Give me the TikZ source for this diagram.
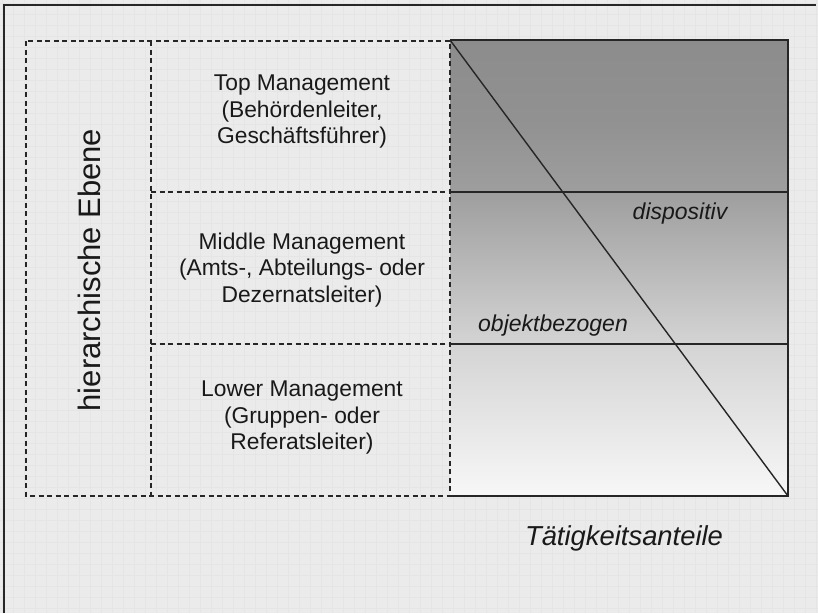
\documentclass[tikz,border=0pt]{standalone}
\usepackage{fontspec}
\setmainfont{Liberation Sans}
\pgfdeclareverticalshading{anteilshade}{100bp}{color(0bp)=(black!3); color(25bp)=(black!3); color(41.7bp)=(black!17); color(58.3bp)=(black!38); color(66bp)=(black!43); color(75bp)=(black!45); color(100bp)=(black!45)}
\begin{document}
\begin{tikzpicture}
[x=1pt,y=-1pt,
  leveldecorate/.style={align=center,text=black!90,font=\fontsize{22.8}{26.5}\selectfont},
  labeldecorate/.style={text=black!90,font=\fontsize{23}{27}\selectfont\itshape},
  dashdecorate/.style={black!85,line width=1.1pt,dash pattern=on 5pt off 3.5pt},
  linedecorate/.style={black!85,line width=1.4pt}]
\useasboundingbox (0,0) rectangle (818,613);
%% background and frame
\fill[black!8] (0,0) rectangle (818,613);
\foreach \x in {2,13,...,818} {
  \draw[black!10,line width=0.6pt] (\x,0) -- (\x,613);
}
\foreach \y in {3,14,...,613} {
  \draw[black!10,line width=0.6pt] (0,\y) -- (818,\y);
}
\draw[black!85,line width=2.5pt] (4,613) -- (4,5) -- (816,5);
%% shaded field of activity shares
\shade[shading=anteilshade] (450,40) rectangle (788,496);
\draw[linedecorate] (450,40) -- (788,40) -- (788,496) -- (450,496);
\foreach \y in {192,344} {
  \draw[linedecorate] (450,\y) -- (788,\y);
}
\draw[linedecorate] (450,40) -- (788,496);
%% dashed levels
\draw[dashdecorate] (26,41) rectangle (450,496);
\draw[dashdecorate] (151,41) -- (151,496);
\foreach \y in {192,344} {
  \draw[dashdecorate] (151,\y) -- (450,\y);
}
%% level texts
\foreach \nodename/\y/\text in {
  top/112/{Top Management\\(Behördenleiter,\\Geschäftsführer)},
  middle/270/{Middle Management\\(Amts-, Abteilungs- oder\\Dezernatsleiter)},
  lower/418/{Lower Management\\(Gruppen- oder\\Referatsleiter)}} {
  \node[leveldecorate] (\nodename) at (302,\y) {\text};
}
\node[text=black!90,font=\fontsize{31}{36}\selectfont,rotate=90] (ebene) at (89,270) {hierarchische Ebene};
%% labels in the field
\node[labeldecorate] (dispositiv) at (680,214) {dispositiv};
\node[labeldecorate] (objekt) at (553,326) {objektbezogen};
\node[labeldecorate,font=\fontsize{27.4}{32}\selectfont\itshape] (anteile) at (624,538) {Tätigkeitsanteile};
\end{tikzpicture}
\end{document}
